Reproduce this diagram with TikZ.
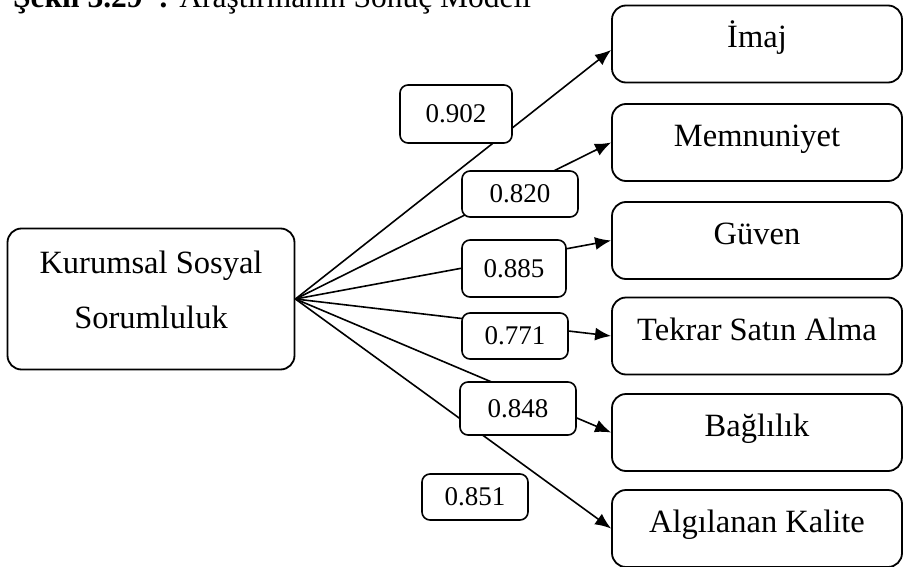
\documentclass[tikz,border=0pt]{standalone}
\usepackage{fontspec}
\setmainfont{Liberation Serif}
\usetikzlibrary{arrows.meta}
\begin{document}
\begin{tikzpicture}[x=1pt,y=-1pt]
\tikzstyle{bigbox}=[draw,line width=1.8pt,rounded corners=14pt,align=center,fill=white,font=\fontsize{32.5}{55}\selectfont]
\tikzstyle{target}=[bigbox,minimum width=290pt,minimum height=77pt,text height=21pt,text depth=13pt]
\tikzstyle{coef}=[draw,line width=1.6pt,rounded corners=8pt,fill=white,inner sep=0pt,font=\fontsize{27}{30}\selectfont]
\tikzstyle{arr}=[-{Latex[length=16pt,width=13pt]},line width=1.6pt]
\useasboundingbox (0,0) rectangle (904,567);
\node[anchor=base west,inner sep=0pt,font=\fontsize{31.5}{36}\selectfont] (caption) 
at (13, 8) {\textbf{Şekil 3.29~~:} Araştırmanın Sonuç Modeli};
\node[bigbox,minimum width=287pt,minimum height=141pt,text depth=18pt] (kss) at (151, 299) {Kurumsal Sosyal\\Sorumluluk};
\node[target] (imaj) at (757, 44) {İmaj};
\node[target] (memnun) at (757, 142.5) {Memnuniyet};
\node[target] (guven) at (757, 240.5) {Güven};
\node[target] (tekrar) at (757, 336) {Tekrar Satın Alma};
\node[target] (bagli) at (757, 432.5) {Bağlılık};
\node[target] (kalite) at (757, 528.5) {Algılanan Kalite};
\path[]
    (kss.east) [arr] edge ([yshift=-6pt]imaj.west)
    (kss.east) [arr] edge (memnun.west)
    (kss.east) [arr] edge (guven.west)
    (kss.east) [arr] edge (tekrar.west)
    (kss.east) [arr] edge (bagli.west)
    (kss.east) [arr] edge (kalite.west);
\node[coef,minimum width=112pt,minimum height=58pt] (c1) at (456, 114) {0.902};
\node[coef,minimum width=116pt,minimum height=46pt] (c2) at (520, 194) {0.820};
\node[coef,minimum width=104pt,minimum height=57pt] (c3) at (514, 268.5) {0.885};
\node[coef,minimum width=106pt,minimum height=46pt] (c4) at (515, 336) {0.771};
\node[coef,minimum width=116pt,minimum height=53pt] (c5) at (518, 408.5) {0.848};
\node[coef,minimum width=106pt,minimum height=46pt] (c6) at (475, 497) {0.851};
\end{tikzpicture}
\end{document}
